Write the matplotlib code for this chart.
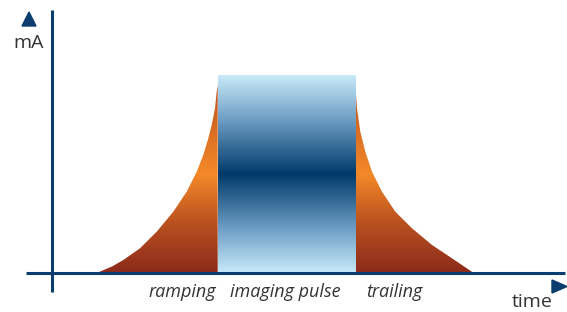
import numpy as np
import matplotlib
matplotlib.use("Agg")
import matplotlib.pyplot as plt
from matplotlib.colors import LinearSegmentedColormap
from matplotlib.patches import Polygon

# ---- data (time units / mA units, origin at axes crossing) ----
ramp_t = [44.7, 60, 71.3, 88, 104.7, 121.3, 134.7, 144.7, 151.3, 156.3, 159.7, 163, 164.7, 165.7]
ramp_mA = [0, 6.5, 13, 24.7, 41.3, 61.3, 81.3, 101.3, 118, 134.7, 148, 164.7, 181.3, 188]
pulse_t = [165.7, 303.3]
pulse_mA = 198
trail_t = [303.3, 305, 308.3, 313.3, 320, 330, 343.3, 360, 380, 400, 421.7]
trail_mA = [188, 164.7, 141.3, 121.3, 101.3, 81.3, 61.3, 44.7, 28, 14.7, 0]
phase_labels = ["ramping", "imaging pulse", "trailing"]
phase_pos = [130.5, 233.5, 342]
y_label = "mA"
x_label = "time"

W, H = 567, 312
fig = plt.figure(figsize=(W / 100, H / 100), dpi=100)
ax = fig.add_axes([0, 0, 1, 1])
# origin of the chart at pixel (52, 273)
ox, oy = 52, H - 273
ax.set_xlim(-ox, W - ox)
ax.set_ylim(-oy, H - oy)
ax.axis("off")

navy = "#0b3d6e"
text_c = "#333333"

top = pulse_mA
blue_cmap = LinearSegmentedColormap.from_list(
    "b", [(0, "#c8eaf9"), (0.22, "#6f9fc6"), (0.5, "#003a6a"), (0.78, "#6f9fc6"), (1, "#c8eaf9")])
orange_cmap = LinearSegmentedColormap.from_list(
    "o", [(0, "#8c2a1b"), (0.25, "#b8501f"), (0.5, "#f4892a"), (0.75, "#d56a22"), (1, "#b04a1c")])

grad = np.linspace(0, 1, 256).reshape(-1, 1)

def gradient_fill(xs, ys, cmap, x0, x1):
    verts = list(zip(xs, ys))
    poly = Polygon(verts, closed=True, facecolor="none", edgecolor="none")
    ax.add_patch(poly)
    im = ax.imshow(grad, cmap=cmap, aspect="auto", origin="lower",
                   extent=[x0, x1, 0, top], interpolation="bilinear", zorder=2)
    im.set_clip_path(poly)

# ramp
gradient_fill(ramp_t + [ramp_t[-1]], ramp_mA + [0], orange_cmap, ramp_t[0], ramp_t[-1])
# trailing
gradient_fill([trail_t[0]] + trail_t, [0] + trail_mA, orange_cmap, trail_t[0], trail_t[-1])
# pulse
ax.imshow(grad, cmap=blue_cmap, aspect="auto", origin="lower",
          extent=[pulse_t[0], pulse_t[1], 0, pulse_mA], interpolation="bilinear", zorder=3)

# axes lines
ax.plot([-26, W - ox - 2], [0, 0], color=navy, lw=2.2, solid_capstyle="butt", zorder=5)
ax.plot([0, 0], [-19, H - oy - 10], color=navy, lw=2.2, solid_capstyle="butt", zorder=5)

# arrowheads
ax.add_patch(Polygon([(-30, H - oy - 26), (-16, H - oy - 26), (-23, H - oy - 12)],
                     closed=True, color=navy, zorder=6))
ax.add_patch(Polygon([(500, -7), (500, -20), (515, -13.5)], closed=True, color=navy, zorder=6))

font = ["Open Sans", "DejaVu Sans"]
ax.text(-23, H - oy - 43, y_label, ha="center", va="center", fontsize=14,
        color=text_c, family=font)
ax.text(480, -29, x_label, ha="center", va="center", fontsize=14,
        color=text_c, family=font)
for lbl, p in zip(phase_labels, phase_pos):
    ax.text(p, -19, lbl, ha="center", va="center", fontsize=13, style="italic",
            color=text_c, family=font)

fig.savefig("out.png", dpi=100)
